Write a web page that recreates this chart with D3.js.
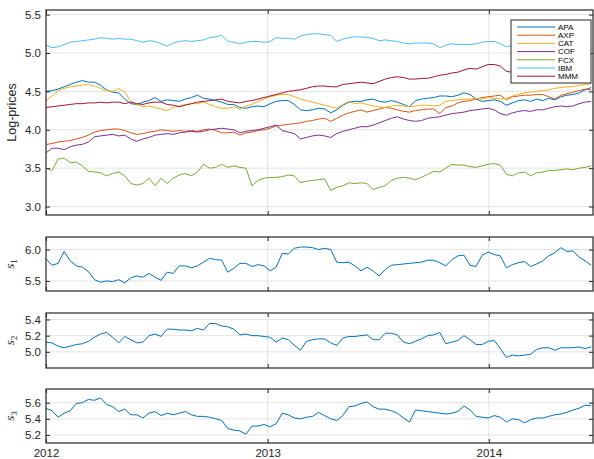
<!DOCTYPE html>
<html><head><meta charset="utf-8">
<script src="https://cdn.jsdelivr.net/npm/d3@7"></script>
<style>body{margin:0;background:#fff}</style>
</head><body><svg id="c" width="594" height="459"></svg>
<script>
// ---- data ----
const startDate = new Date(2012, 0, 1);
const stepDays = 10;
const tickYears = [2012, 2013, 2014];
const tickers = ["APA", "AXP", "CAT", "COF", "FCX", "IBM", "MMM"];
const APA = [4.50,4.51,4.53,4.56,4.59,4.62,4.64,4.62,4.62,4.58, 4.52,4.49,4.48,4.40,4.34,4.33,4.36,4.38,4.42,4.37, 4.39,4.38,4.37,4.40,4.42,4.45,4.41,4.40,4.38,4.36, 4.33,4.33,4.29,4.28,4.30,4.31,4.30,4.34,4.37,4.38, 4.38,4.33,4.26,4.25,4.26,4.28,4.27,4.22,4.26,4.32, 4.36,4.37,4.37,4.39,4.40,4.37,4.36,4.38,4.36,4.33, 4.30,4.38,4.40,4.41,4.42,4.44,4.44,4.43,4.45,4.48, 4.46,4.40,4.37,4.38,4.39,4.37,4.32,4.35,4.38,4.39, 4.37,4.40,4.38,4.41,4.39,4.43,4.45,4.46,4.48,4.52, 4.55];
const AXP = [3.81,3.82,3.84,3.85,3.86,3.88,3.90,3.93,3.97,3.99, 4.00,4.01,4.01,3.99,3.96,3.94,3.95,3.97,3.98,4.00, 3.99,3.98,3.99,3.98,3.99,3.98,4.00,4.01,3.99,3.96, 3.96,3.97,3.93,3.96,3.97,3.99,4.00,4.02,4.05,4.06, 4.07,4.08,4.09,4.11,4.12,4.14,4.15,4.11,4.15,4.19, 4.22,4.24,4.26,4.23,4.25,4.27,4.29,4.28,4.26,4.24, 4.23,4.25,4.26,4.27,4.27,4.21,4.29,4.31,4.35,4.37, 4.38,4.40,4.42,4.43,4.44,4.45,4.39,4.43,4.44,4.45, 4.45,4.46,4.46,4.43,4.40,4.45,4.47,4.49,4.51,4.53, 4.52];
const CAT = [4.38,4.44,4.51,4.54,4.56,4.57,4.58,4.59,4.57,4.54, 4.51,4.50,4.54,4.49,4.37,4.33,4.30,4.31,4.29,4.27, 4.25,4.29,4.31,4.33,4.34,4.34,4.36,4.33,4.30,4.28, 4.28,4.30,4.27,4.31,4.33,4.37,4.40,4.43,4.45,4.46, 4.46,4.43,4.40,4.38,4.36,4.34,4.32,4.30,4.28,4.33, 4.37,4.34,4.35,4.33,4.31,4.30,4.29,4.31,4.32,4.31, 4.30,4.31,4.32,4.32,4.31,4.32,4.37,4.38,4.39,4.40, 4.40,4.41,4.40,4.42,4.41,4.40,4.41,4.44,4.46,4.48, 4.49,4.50,4.51,4.52,4.54,4.55,4.56,4.56,4.58,4.59, 4.60];
const COF = [3.70,3.76,3.76,3.74,3.78,3.80,3.81,3.84,3.91,3.92, 3.93,3.94,3.92,3.93,3.88,3.85,3.88,3.90,3.93,3.94, 3.95,3.94,3.96,3.97,3.98,3.97,3.98,4.00,4.01,4.02, 4.01,4.00,3.96,3.98,3.99,4.00,4.02,4.04,4.06,3.99, 3.97,3.95,3.88,3.90,3.92,3.93,3.92,3.90,3.95,3.98, 4.00,4.02,4.04,4.04,4.06,4.09,4.12,4.15,4.17,4.14, 4.12,4.11,4.12,4.15,4.16,4.17,4.19,4.21,4.22,4.23, 4.25,4.26,4.27,4.28,4.26,4.21,4.19,4.22,4.24,4.25, 4.24,4.26,4.26,4.28,4.30,4.31,4.30,4.31,4.34,4.36, 4.37];
const FCX = [3.50,3.47,3.62,3.63,3.57,3.58,3.53,3.46,3.45,3.44, 3.40,3.43,3.45,3.40,3.30,3.28,3.30,3.37,3.27,3.37, 3.30,3.37,3.41,3.43,3.40,3.45,3.55,3.50,3.51,3.55, 3.51,3.53,3.51,3.50,3.27,3.34,3.37,3.38,3.38,3.39, 3.41,3.40,3.31,3.33,3.34,3.35,3.36,3.21,3.25,3.27, 3.31,3.30,3.31,3.30,3.22,3.25,3.27,3.34,3.37,3.38, 3.37,3.35,3.38,3.42,3.46,3.45,3.50,3.55,3.54,3.54, 3.52,3.51,3.53,3.55,3.56,3.54,3.42,3.40,3.44,3.45, 3.40,3.44,3.45,3.47,3.47,3.48,3.49,3.48,3.50,3.51, 3.53];
const IBM = [5.10,5.07,5.08,5.11,5.14,5.15,5.16,5.17,5.18,5.20, 5.19,5.18,5.19,5.18,5.18,5.16,5.14,5.16,5.15,5.12, 5.09,5.13,5.15,5.16,5.15,5.16,5.17,5.20,5.21,5.23, 5.15,5.14,5.12,5.14,5.15,5.15,5.14,5.15,5.20,5.19, 5.19,5.18,5.22,5.24,5.25,5.25,5.24,5.23,5.15,5.18, 5.20,5.21,5.21,5.20,5.19,5.16,5.17,5.16,5.15,5.13, 5.12,5.13,5.13,5.13,5.12,5.07,5.10,5.12,5.11,5.11, 5.11,5.12,5.14,5.15,5.15,5.12,5.08,5.10,5.11,5.13, 5.14,5.14,5.15,5.15,5.14,5.13,5.12,5.12,5.13,5.13, 5.11];
const MMM = [4.29,4.30,4.31,4.32,4.33,4.34,4.34,4.35,4.35,4.36, 4.35,4.36,4.36,4.34,4.36,4.34,4.33,4.35,4.36,4.36, 4.33,4.32,4.30,4.32,4.34,4.36,4.37,4.38,4.39,4.40, 4.37,4.36,4.35,4.37,4.38,4.40,4.42,4.44,4.46,4.48, 4.50,4.51,4.52,4.54,4.56,4.57,4.57,4.56,4.56,4.59, 4.60,4.61,4.62,4.61,4.60,4.63,4.66,4.68,4.69,4.68, 4.66,4.66,4.67,4.67,4.69,4.71,4.72,4.74,4.75,4.78, 4.80,4.79,4.82,4.85,4.85,4.83,4.76,4.75,4.77,4.79, 4.80,4.82,4.83,4.85,4.86,4.87,4.88,4.89,4.90,4.91, 4.90];
const s1 = [5.85,5.75,5.78,5.97,5.82,5.74,5.72,5.65,5.52,5.48, 5.50,5.49,5.52,5.47,5.55,5.58,5.56,5.62,5.56,5.51, 5.64,5.62,5.74,5.74,5.71,5.74,5.80,5.86,5.84,5.83, 5.64,5.70,5.78,5.78,5.73,5.76,5.74,5.66,5.72,5.94, 5.93,6.02,6.04,6.04,6.03,6.00,6.02,6.00,5.80,5.79, 5.80,5.74,5.66,5.72,5.66,5.58,5.68,5.75,5.76,5.77, 5.78,5.79,5.80,5.83,5.83,5.79,5.74,5.84,5.90,5.91, 5.75,5.73,5.91,5.96,5.92,5.90,5.71,5.76,5.79,5.81, 5.73,5.77,5.82,5.90,5.95,6.03,5.97,5.98,5.88,5.82, 5.75];
const s2 = [5.12,5.11,5.07,5.05,5.07,5.09,5.10,5.13,5.18,5.22, 5.24,5.18,5.11,5.19,5.15,5.11,5.12,5.20,5.22,5.19, 5.28,5.28,5.27,5.27,5.26,5.29,5.27,5.35,5.35,5.32, 5.31,5.28,5.21,5.22,5.20,5.20,5.19,5.18,5.12,5.17, 5.15,5.08,5.02,5.13,5.15,5.16,5.16,5.11,5.08,5.17, 5.19,5.19,5.20,5.21,5.15,5.15,5.23,5.23,5.21,5.12, 5.10,5.13,5.16,5.20,5.21,5.24,5.10,5.12,5.14,5.20, 5.15,5.09,5.09,5.13,5.14,5.04,4.93,4.96,4.95,4.96, 4.97,5.03,5.05,5.05,5.02,5.05,5.05,5.05,5.06,5.04, 5.06];
const s3 = [5.53,5.50,5.42,5.47,5.50,5.59,5.60,5.64,5.63,5.66, 5.58,5.55,5.49,5.52,5.45,5.45,5.41,5.47,5.49,5.44, 5.47,5.45,5.47,5.49,5.45,5.43,5.43,5.42,5.40,5.38, 5.28,5.26,5.25,5.21,5.31,5.31,5.33,5.30,5.34,5.47, 5.45,5.41,5.40,5.42,5.43,5.48,5.44,5.40,5.38,5.44, 5.55,5.56,5.59,5.61,5.55,5.52,5.52,5.50,5.47,5.41, 5.36,5.51,5.50,5.49,5.48,5.47,5.46,5.47,5.49,5.56, 5.51,5.43,5.42,5.41,5.44,5.42,5.36,5.40,5.39,5.35, 5.39,5.41,5.41,5.43,5.45,5.46,5.48,5.51,5.53,5.57, 5.56];
const topTicks = [3.0, 3.5, 4.0, 4.5, 5.0, 5.5];
const s1Ticks = [5.5, 6.0];
const s2Ticks = [5.0, 5.2, 5.4];
const s3Ticks = [5.2, 5.4, 5.6];

// ---- styles ----
const colors = ["#0072BD", "#D95319", "#EDB120", "#7E2F8E", "#77AC30", "#4DBEEE", "#A2142F"];
const axisColor = "#262626";
const gridColor = "#e3e3e3";
const FONT = "'Liberation Sans', Arial, Helvetica, sans-serif";

const priceSeries = [APA, AXP, CAT, COF, FCX, IBM, MMM];
const dates = APA.map((_, i) => d3.timeDay.offset(startDate, i * stepDays));
const endDate = d3.timeDay.offset(startDate, 903);

const svg = d3.select("#c");
const L = 46, R = 593;
const x = d3.scaleTime().domain([startDate, endDate]).range([L, R]);
const yearDates = tickYears.map(y => new Date(y, 0, 1));

const panels = [
  {top: 10, bottom: 215, domain: [2.89, 5.56], ticks: topTicks, series: priceSeries, cols: colors, label: "Log-prices"},
  {top: 237, bottom: 291, domain: [5.34, 6.2], ticks: s1Ticks, series: [s1], cols: [colors[0]], sub: "1"},
  {top: 313, bottom: 368, domain: [4.80, 5.48], ticks: s2Ticks, series: [s2], cols: [colors[0]], sub: "2"},
  {top: 389, bottom: 443, domain: [5.10, 5.77], ticks: s3Ticks, series: [s3], cols: [colors[0]], sub: "3"}
];

panels.forEach((p, pi) => {
  const y = d3.scaleLinear().domain(p.domain).range([p.bottom, p.top]);
  const g = svg.append("g");
  const cid = "clip" + pi;
  svg.append("clipPath").attr("id", cid).append("rect")
    .attr("x", L).attr("y", p.top).attr("width", R - L).attr("height", p.bottom - p.top);
  g.selectAll(".gy").data(p.ticks).join("line")
    .attr("x1", L).attr("x2", R).attr("y1", d => y(d)).attr("y2", d => y(d))
    .attr("stroke", gridColor).attr("stroke-width", 1);
  g.selectAll(".gx").data(yearDates.slice(1)).join("line")
    .attr("x1", d => x(d)).attr("x2", d => x(d)).attr("y1", p.top).attr("y2", p.bottom)
    .attr("stroke", gridColor).attr("stroke-width", 1);
  const line = d3.line().x((d, i) => x(dates[i])).y(d => y(d));
  const lg = g.append("g").attr("clip-path", `url(#${cid})`);
  p.series.forEach((s, si) => {
    lg.append("path").attr("d", line(s)).attr("fill", "none")
      .attr("stroke", p.cols[si]).attr("stroke-width", 1).attr("stroke-linejoin", "round");
  });
  const styleAxis = sel => {
    sel.select(".domain").remove();
    sel.selectAll("line").attr("stroke", axisColor).attr("stroke-width", 1);
    sel.selectAll("text").attr("fill", axisColor).style("font-family", FONT).style("font-size", "11.5px");
  };
  g.append("g").attr("transform", `translate(${L},0)`)
    .call(d3.axisLeft(y).tickValues(p.ticks).tickSizeInner(-4).tickSizeOuter(0).tickPadding(5).tickFormat(d3.format(".1f")))
    .call(styleAxis);
  g.append("g").attr("transform", `translate(${R},0)`)
    .call(d3.axisRight(y).tickValues(p.ticks).tickSizeInner(-4).tickSizeOuter(0).tickFormat(""))
    .call(styleAxis);
  g.append("g").attr("transform", `translate(0,${p.top})`)
    .call(d3.axisTop(x).tickValues(yearDates).tickSizeInner(-4).tickSizeOuter(0).tickFormat(""))
    .call(styleAxis);
  g.append("g").attr("transform", `translate(0,${p.bottom})`)
    .call(d3.axisBottom(x).tickValues(yearDates).tickSizeInner(-4).tickSizeOuter(0).tickPadding(6)
      .tickFormat(pi === 3 ? d3.timeFormat("%Y") : ""))
    .call(styleAxis);
  g.append("rect").attr("x", L).attr("y", p.top).attr("width", R - L).attr("height", p.bottom - p.top)
    .attr("fill", "none").attr("stroke", axisColor).attr("stroke-width", 1.2);
  const cy = (p.top + p.bottom) / 2;
  if (p.label) {
    svg.append("text").attr("transform", `translate(16,${cy}) rotate(-90)`)
      .attr("text-anchor", "middle").attr("fill", axisColor)
      .style("font-family", FONT).style("font-size", "12.5px").text(p.label);
  } else {
    const t = svg.append("text").attr("transform", `translate(14,${cy}) rotate(-90)`)
      .attr("text-anchor", "middle").attr("fill", axisColor)
      .style("font-family", "'Liberation Serif', 'DejaVu Serif', serif").style("font-size", "13px");
    t.append("tspan").style("font-style", "italic").text("s");
    t.append("tspan").attr("dy", 3).style("font-size", "9px").text(p.sub);
  }
});

// legend
const lgX = 511, lgY = 20, lgW = 80, lgH = 63, rowH = 8.2;
const leg = svg.append("g");
leg.append("rect").attr("x", lgX).attr("y", lgY).attr("width", lgW).attr("height", lgH)
  .attr("fill", "#fff").attr("stroke", axisColor).attr("stroke-width", 1);
tickers.forEach((t, i) => {
  const yy = lgY + 7 + i * rowH;
  leg.append("line").attr("x1", lgX + 6).attr("x2", lgX + 44).attr("y1", yy).attr("y2", yy)
    .attr("stroke", colors[i]).attr("stroke-width", 1);
  leg.append("text").attr("x", lgX + 47).attr("y", yy).attr("dy", "0.35em")
    .attr("fill", "#000").style("font-family", FONT).style("font-size", "8px").text(t);
});
</script></body></html>
